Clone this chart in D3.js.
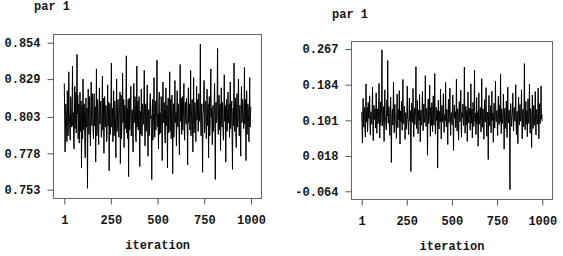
<!DOCTYPE html>
<html>
<head>
<meta charset="utf-8">
<script src="https://cdn.jsdelivr.net/npm/d3@7"></script>
<style>
  body { margin: 0; background: #fff; }
  svg text { font-family: "Liberation Mono", "DejaVu Sans Mono", monospace; font-weight: bold; font-size: 12px; fill: #151515; }
</style>
</head>
<body>
<div id="chart"></div>
<script>
// trace values, one every 2 iterations
var leftTrace = [
  .826,.803,.779,.795,.812,.808,.798,.786,.821,.811,.790,.799,.834,.806,.801,.792,.787,.817,.815,.800,
  .796,.811,.838,.797,.806,.790,.781,.804,.824,.795,.809,.820,.792,.801,.846,.805,.818,.788,.799,.812,
  .785,.802,.820,.793,.803,.814,.768,.799,.811,.788,.829,.805,.794,.812,.807,.785,.775,.803,.816,.796,
  .800,.809,.754,.798,.822,.804,.791,.817,.810,.792,.783,.808,.827,.800,.797,.819,.813,.794,.788,.806,
  .819,.797,.802,.810,.772,.801,.836,.790,.795,.815,.808,.793,.784,.807,.823,.798,.799,.812,.814,.789,
  .791,.808,.831,.794,.805,.816,.778,.803,.817,.799,.796,.811,.809,.786,.787,.805,.825,.797,.802,.813,
  .766,.800,.812,.791,.798,.818,.840,.796,.803,.809,.786,.802,.821,.790,.793,.814,.808,.795,.775,.806,
  .829,.793,.800,.812,.815,.798,.789,.807,.806,.820,.771,.801,.818,.788,.797,.810,.833,.799,.804,.815,
  .782,.804,.811,.797,.795,.813,.845,.792,.809,.800,.788,.815,.762,.806,.816,.794,.801,.811,.824,.790,
  .792,.808,.807,.795,.779,.810,.826,.799,.799,.817,.813,.789,.786,.803,.838,.796,.805,.814,.794,.802,
  .817,.796,.769,.807,.803,.791,.822,.805,.790,.812,.810,.798,.798,.816,.835,.801,.783,.809,.812,.793,
  .800,.811,.825,.799,.776,.804,.808,.790,.793,.813,.819,.802,.804,.795,.760,.808,.815,.787,.797,.806,
  .830,.801,.789,.814,.811,.794,.802,.809,.842,.797,.796,.805,.781,.812,.820,.791,.806,.803,.792,.817,
  .814,.795,.773,.806,.827,.800,.799,.813,.809,.790,.785,.808,.823,.797,.801,.811,.768,.804,.816,.792,
  .795,.810,.834,.793,.807,.815,.788,.802,.818,.796,.764,.807,.812,.789,.798,.814,.828,.799,.803,.806,
  .783,.807,.821,.798,.796,.812,.810,.791,.777,.809,.839,.800,.805,.816,.791,.803,.817,.794,.800,.811,
  .826,.793,.787,.810,.813,.801,.798,.816,.808,.795,.770,.806,.823,.799,.804,.812,.794,.808,.835,.790,
  .802,.809,.815,.796,.779,.804,.830,.792,.797,.813,.811,.799,.786,.807,.824,.801,.807,.815,.793,.797,
  .819,.803,.800,.811,.853,.798,.790,.808,.812,.794,.765,.805,.806,.817,.828,.792,.795,.810,.814,.800,
  .788,.806,.822,.797,.803,.812,.775,.801,.817,.790,.798,.814,.836,.803,.809,.796,.784,.808,.811,.793,
  .799,.810,.826,.795,.760,.807,.813,.799,.802,.816,.850,.802,.791,.809,.818,.794,.805,.812,.780,.804,
  .823,.798,.796,.813,.810,.791,.787,.806,.832,.800,.801,.811,.772,.804,.815,.793,.794,.808,.820,.799,
  .806,.812,.789,.801,.827,.795,.798,.809,.814,.790,.767,.805,.809,.797,.840,.814,.793,.803,.816,.792,
  .782,.807,.819,.796,.803,.813,.829,.800,.790,.808,.811,.794,.776,.811,.824,.799,.800,.815,.812,.802,
  .795,.809,.837,.798,.807,.815,.773,.803,.821,.791,.799,.812,.810,.800,.786,.806,.830,.796,.804,.810
];
var rightTrace = [
  .120,.094,.048,.112,.152,.101,.085,.127,.131,.088,.062,.118,.186,.105,.097,.131,.074,.092,.143,.109,
  .105,.126,.158,.090,.067,.114,.121,.099,.092,.135,.178,.087,.054,.119,.136,.103,.110,.128,.083,.096,
  .165,.100,.071,.122,.128,.093,.099,.137,.187,.108,.060,.116,.144,.089,.115,.130,.265,.107,.088,.121,
  .133,.097,.052,.118,.172,.104,.106,.089,.079,.125,.149,.111,.240,.095,.094,.133,.123,.086,.066,.114,
  .155,.108,.003,.091,.118,.127,.090,.116,.190,.098,.072,.129,.138,.103,.101,.087,.059,.120,.162,.099,
  .084,.117,.127,.102,.170,.090,.046,.123,.111,.097,.145,.112,.078,.130,.196,.094,.093,.115,.134,.106,
  .057,.110,.119,.095,.080,.121,.181,.106,.102,.088,.068,.126,.153,.099,.124,.113,-.018,.092,.141,.118,
  .096,.121,.175,.098,.063,.116,.130,.091,.108,.128,.226,.104,.082,.119,.147,.095,.070,.124,.114,.101,
  .161,.099,.051,.114,.125,.090,.093,.127,.168,.105,.077,.120,.139,.096,.104,.118,.205,.103,.087,.125,
  .129,.107,.020,.122,.151,.094,.099,.115,.183,.100,.064,.131,.117,.089,.142,.110,.075,.126,.158,.097,
  .090,.118,.210,.093,.069,.112,.132,.101,.106,.124,-.010,.109,.148,.092,.081,.120,.122,.098,.174,.113,
  .058,.104,.136,.119,.097,.128,.163,.095,.073,.111,.115,.100,.189,.117,.086,.126,.127,.091,.045,.108,
  .150,.096,.102,.123,.176,.094,.066,.114,.119,.102,.091,.129,.160,.088,.031,.116,.137,.106,.109,.121,
  .084,.113,.197,.101,.076,.125,.128,.092,.055,.117,.145,.105,.098,.127,.171,.094,.062,.119,.116,.108,
  .139,.098,.089,.120,.225,.107,.071,.115,.134,.090,.103,.124,.052,.111,.167,.097,.095,.130,.121,.103,
  .078,.116,.186,.094,.110,.127,.060,.105,.143,.112,.087,.121,.218,.099,.100,.118,.068,.108,.154,.093,
  .113,.122,.041,.104,.165,.096,.092,.119,.131,.101,.074,.113,.198,.090,.085,.128,.126,.097,.057,.115,
  .149,.106,.097,.125,.177,.093,.064,.117,.120,.099,.010,.122,.159,.104,.088,.114,.135,.091,.072,.120,
  .169,.101,.105,.118,.050,.110,.141,.095,.083,.126,.192,.107,.098,.115,.124,.092,.066,.123,.157,.100,
  .091,.119,.137,.097,.209,.112,.070,.128,.118,.093,.100,.116,.162,.103,.034,.121,.129,.096,.082,.113,
  .146,.098,.061,.117,.178,.104,.095,.122,.125,.090,-.060,.111,.140,.126,.087,.101,.113,.119,.164,.094,
  .076,.114,.131,.103,.099,.125,.184,.097,.068,.118,.122,.092,.047,.120,.155,.106,.090,.127,.138,.099,
  .107,.121,.172,.095,.058,.113,.127,.102,.086,.129,.233,.108,.079,.116,.145,.091,.101,.124,.063,.110,
  .151,.097,.094,.120,.185,.106,.071,.128,.119,.093,.038,.115,.160,.100,.082,.123,.136,.089,.104,.117,
  .168,.102,.067,.126,.124,.095,.092,.118,.176,.109,.058,.121,.140,.093,.098,.114,.181,.105,.115,.099
];
var leftYTicks = [0.753, 0.778, 0.803, 0.829, 0.854];
var rightYTicks = [-0.064, 0.018, 0.101, 0.184, 0.267];
var xTicks = [1, 250, 500, 750, 1000];
var titleText = "par 1";
var xLabel = "iteration";

var svg = d3.select("#chart").append("svg")
  .attr("width", 563)
  .attr("height", 256);

function drawPanel(p, vals, yTicks) {
  var g = svg.append("g");
  var x = d3.scaleLinear().domain([1, 1000]).range([p.x0, p.x1]);
  var y = d3.scaleLinear().domain([yTicks[0], yTicks[yTicks.length - 1]]).range([p.y0, p.y1]);
  var iters = vals.map(function(d, i) { return 1 + i * 2; });

  // trace
  var line = d3.line()
    .x(function(d, i) { return x(iters[i]); })
    .y(function(d) { return y(d); });
  g.append("path")
    .datum(vals)
    .attr("d", line)
    .attr("fill", "none")
    .attr("stroke", "#000")
    .attr("stroke-width", 1);

  // box
  g.append("rect")
    .attr("x", p.bx0 + 0.5).attr("y", p.by0 + 0.5)
    .attr("width", p.bx1 - p.bx0).attr("height", p.by1 - p.by0)
    .attr("fill", "none").attr("stroke", "#666").attr("stroke-width", 1);

  // y axis
  var ya = g.append("g")
    .attr("transform", "translate(" + (p.bx0 + 0.5) + ",0)")
    .call(d3.axisLeft(y).tickValues(yTicks).tickSize(6).tickPadding(7));
  ya.select(".domain").remove();
  ya.selectAll("line").attr("stroke", "#555");
  ya.selectAll("text").text(function(d) { return d3.format(".3f")(d).replace("\u2212", "-"); });

  // x axis
  var xa = g.append("g")
    .attr("transform", "translate(0," + (p.by1 + 0.5) + ")")
    .call(d3.axisBottom(x).tickValues(xTicks).tickFormat(d3.format("d")).tickSize(6).tickPadding(11));
  xa.select(".domain").remove();
  xa.selectAll("line").attr("stroke", "#555");

  g.append("text")
    .attr("x", p.bx0 - 19).attr("y", p.ty)
    .text(titleText);
  g.append("text")
    .attr("x", (p.x0 + p.x1) / 2).attr("y", p.ly)
    .attr("text-anchor", "middle")
    .text(xLabel);
}

drawPanel({bx0: 53, bx1: 261, by0: 34, by1: 198, x0: 64.3, x1: 251, y0: 189.7, y1: 42.7, ty: 10, ly: 249},
  leftTrace, leftYTicks);
drawPanel({bx0: 351, bx1: 552, by0: 41, by1: 199, x0: 361.7, x1: 542.3, y0: 191.3, y1: 49, ty: 18, ly: 249.5},
  rightTrace, rightYTicks);
</script>
</body>
</html>
